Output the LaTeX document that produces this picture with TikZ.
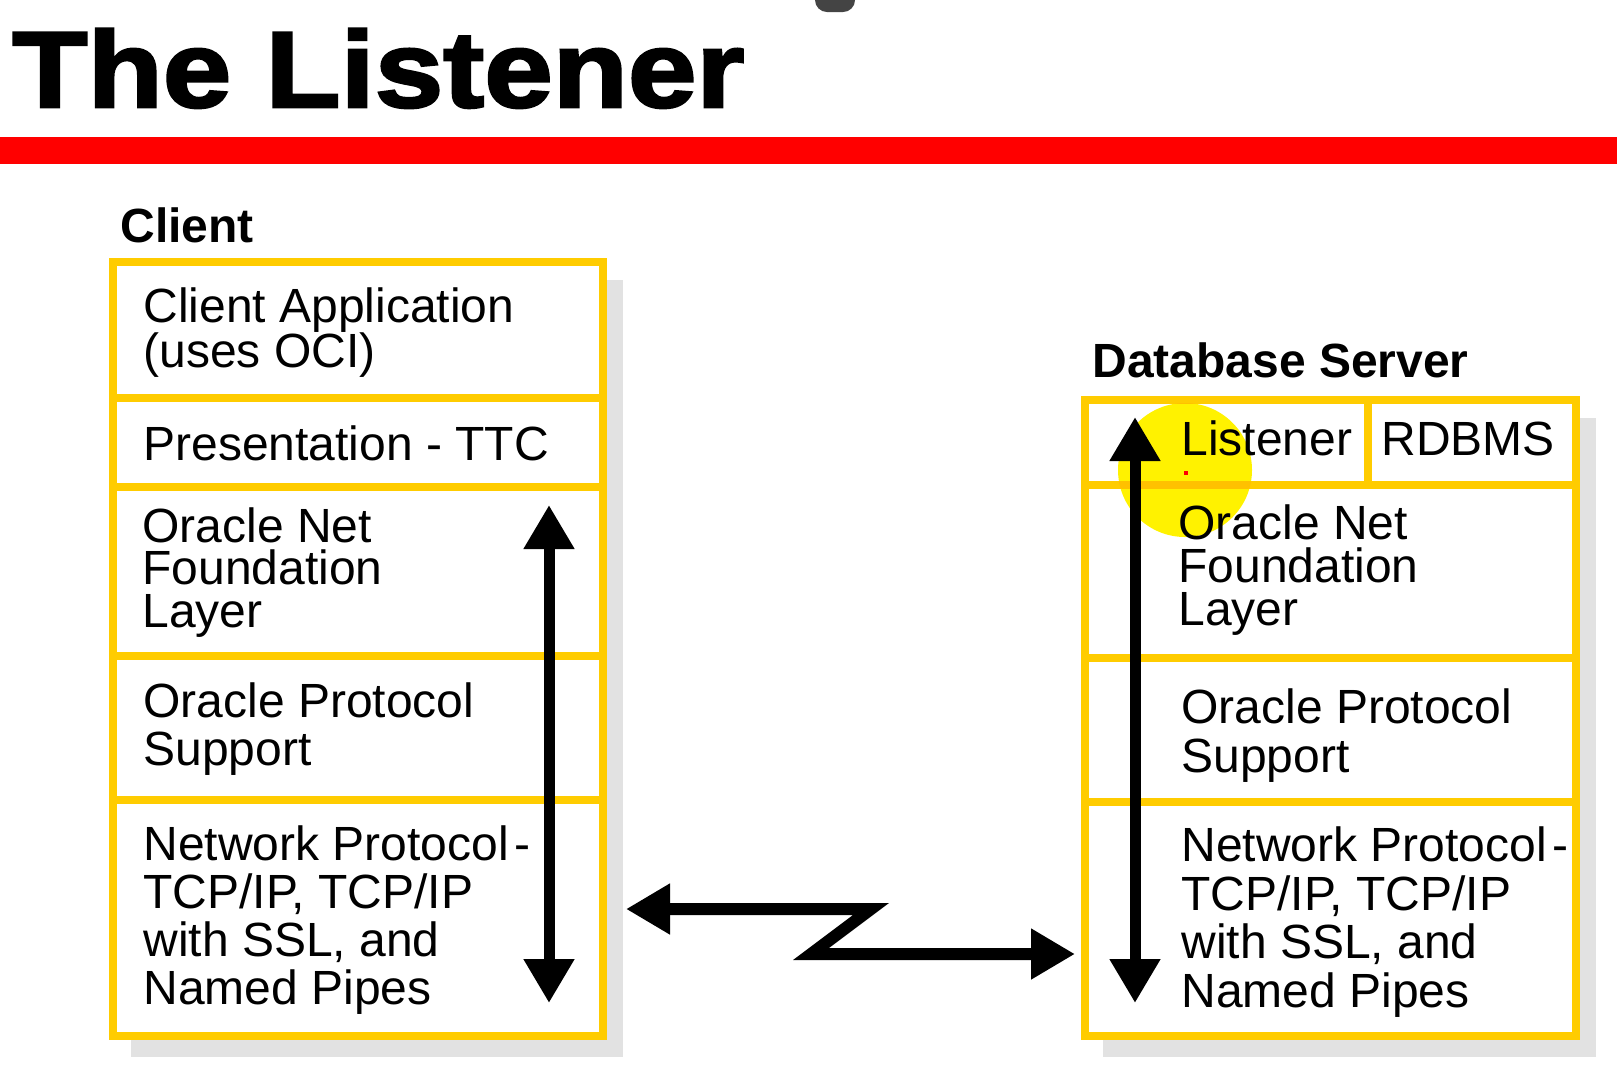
\documentclass[tikz,border=0pt]{standalone}
\usepackage{fontspec}
\setmainfont{Liberation Sans}
\newfontfamily\titlefont{Liberation Sans}[BoldFeatures={FakeStretch=1.14,FakeBold=2.5}]
\usetikzlibrary{arrows.meta}
\usetikzlibrary{calc}
\definecolor{layeryellow}{HTML}{FFCC00}
\definecolor{shadowgrey}{HTML}{E2E2E2}
\definecolor{uigrey}{HTML}{444444}
\tikzset{
    layer/.style={draw=layeryellow, line width=4pt, fill=white, inner sep=0pt,
        outer sep=0pt, anchor=north west},
    layertext/.style={anchor=base west, inner sep=0pt, align=left,
        font=\fontsize{24}{#1}\selectfont},
    layertext/.default=24,
    heading/.style={anchor=base west, inner sep=0pt,
        font=\bfseries\fontsize{24}{24}\selectfont},
    bigboth/.style={{Triangle[length=22pt,width=24pt]}-{Triangle[length=22pt,width=24pt]}},
}
\newcommand{\netproto}{Network Protocol\hspace{0.12em}-\\TCP/IP, TCP/IP\\with SSL, and\\Named Pipes}

\begin{document}
\begin{tikzpicture}[x=0.5pt, y=-0.5pt]

    \useasboundingbox (0,0) rectangle (1617,1078);
    \fill[white] (0,0) rectangle (1617,1078);
    \clip (0,0) rectangle (1617,1078);

    % title and bar
    \fill[uigrey, rounded corners=6pt] (815,-12) rectangle (855,12);
    \node[anchor=base west, inner sep=0pt, font=\titlefont\bfseries\fontsize{54}{54}\selectfont]
        (title) at (12,107) {The Listener};
    \fill[red] (0,137) rectangle (1617,164);

    \node[heading] (client) at (120,242) {Client};
    \node[heading] (server) at (1092,377) {Database Server};

    % shadows
    \fill[shadowgrey] (131,280) rectangle (623,1057);
    \fill[shadowgrey] (1103,418) rectangle (1596,1057);

    % layers: name/left/top/right/bottom
    \foreach \nm/\xa/\ya/\xb/\yb in {
        capp/113/262/603/398, pres/113/398/603/487, onfl/113/487/603/656,
        opsl/113/656/603/800, npl/113/800/603/1036,
        lsnr/1085/400/1368/485, rdbms/1368/400/1576/485, onfr/1085/485/1576/658,
        opsr/1085/658/1576/802, npr/1085/802/1576/1036}{
        \node[layer, minimum width=(\xb-\xa)*0.5pt, minimum height=(\yb-\ya)*0.5pt]
            (\nm) at (\xa,\ya) {};
    }

    % client texts (placed at the baseline of their last line)
    \node[layertext=22.5] (cappT) at (143,367) {Client Application\\(uses OCI)};
    \node[layertext] (presT) at (143,460) {Presentation - TTC};
    \node[layertext=21.2] (onflT) at (142,627) {Oracle Net\\Foundation\\Layer};
    \node[layertext] (opslT) at (143,765) {Oracle Protocol\\Support};
    \node[layertext] (nplT) at (143,1004) {\netproto};

    % server texts
    \node[layertext] (lsnrT) at (1181,455) {Listener};
    \node[layertext] (rdbmsT) at (1381,455) {RDBMS};
    \node[layertext=21.5] (onfrT) at (1178,625) {Oracle Net\\Foundation\\Layer};
    \node[layertext=24.5] (opsrT) at (1181,772) {Oracle Protocol\\Support};
    \node[layertext=24.2] (nprT) at (1181,1007) {\netproto};

    % arrows
    \coordinate (cliTop) at ($(onfl.north east)+(-54,18)$);
    \coordinate (cliBot) at ($(npl.south east)+(-54,-33)$);
    \coordinate (srvTop) at ($(lsnr.north west)+(50,17)$);
    \coordinate (srvBot) at ($(npr.south west)+(50,-33)$);
    \draw[bigboth, line width=5.5pt] (cliTop) -- (cliBot);
    \draw[bigboth, line width=5.5pt] (srvTop) -- (srvBot);

    \coordinate (zA) at ($(npl.north east)+(23,109)$);
    \coordinate (zD) at ($(npr.north west)+(-10,152)$);
    \coordinate (zB) at ($(zA)+(245,0)$);
    \coordinate (zC) at ($(zD)+(-264,0)$);
    \draw[bigboth, line width=6pt, miter limit=10] (zA) -- (zB) -- (zC) -- (zD);

    % pointer highlight
    \fill[yellow, blend mode=multiply] (1185,470) circle [radius=33.5pt];
    \fill[red] (1184,471) rectangle (1188,475);

\end{tikzpicture}
\end{document}
